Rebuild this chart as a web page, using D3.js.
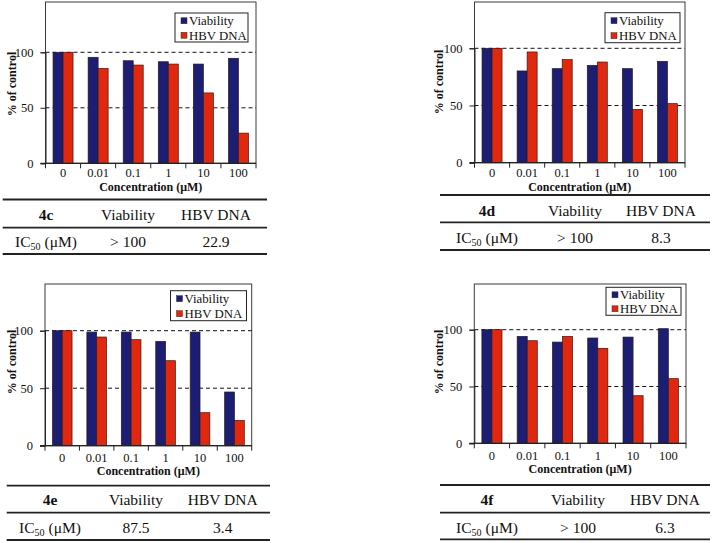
<!DOCTYPE html>
<html>
<head>
<meta charset="utf-8">
<script src="https://cdn.jsdelivr.net/npm/d3@7"></script>
<style>
  html, body { margin: 0; padding: 0; background: #fff; }
  svg { display: block; font-family: "Liberation Serif", "Times New Roman", serif; }
</style>
</head>
<body>
<svg id="chart" width="714" height="543"></svg>
<script>
// ---------- data ----------
const categories = ["0", "0.01", "0.1", "1", "10", "100"];
const seriesNames = ["Viability", "HBV DNA"];
const yTicks = [0, 50, 100];
const compounds = ["4c", "4d", "4e", "4f"];

const viability4c = [100, 95.5, 92.4, 91.5, 89.4, 94.6];
const hbv4c       = [100, 85.5, 88.5, 89.4, 63.4, 27.2];
const viability4d = [100, 80.2, 82.2, 85.1, 82.2, 88.6];
const hbv4d       = [100, 96.8, 90.1, 88.0, 46.6, 51.6];
const viability4e = [100, 98.8, 98.8, 90.7, 98.8, 46.7];
const hbv4e       = [100, 94.5, 92.2, 73.9, 28.7, 22.0];
const viability4f = [100, 94.1, 89.1, 92.7, 93.5, 100.9];
const hbv4f       = [100, 90.3, 94.1, 83.6, 41.9, 56.9];

const ic50Viability = ["> 100", "> 100", "87.5", "> 100"];
const ic50HBV       = ["22.9", "8.3", "3.4", "6.3"];

const viabilitySeries = [viability4c, viability4d, viability4e, viability4f];
const hbvSeries = [hbv4c, hbv4d, hbv4e, hbv4f];

// ---------- layout (positions only) ----------
const layouts = [
  { left: 45.5, right: 256, top: 2, y0: 163.3, y100: 52.3, tickBase: 177, titleBase: 191, yTitleX: 12, yTitleY: 84,
    legend: { x: 175, y: 13, w: 73, h: 29 },
    table: { x1: 2.7, x2: 267, lines: [199.5, 227.7, 254], hdr: 219.5, row: 246.5, cols: [46, 128, 216] } },
  { left: 474.5, right: 685, top: 2, y0: 162.7, y100: 48.3, tickBase: 177, titleBase: 191, yTitleX: 439, yTitleY: 82,
    legend: { x: 605, y: 12.7, w: 75, h: 30 },
    table: { x1: 440, x2: 710, lines: [195, 222.3, 250], hdr: 216, row: 242.5, cols: [487, 575, 661] } },
  { left: 45, right: 251.7, top: 284, y0: 445.7, y100: 330.7, tickBase: 462, titleBase: 475, yTitleX: 11.7, yTitleY: 362,
    legend: { x: 170.5, y: 290.7, w: 76, h: 30 },
    table: { x1: 6.7, x2: 270, lines: [485.7, 512.7, 540], hdr: 505, row: 532.5, cols: [50, 136, 222.7] } },
  { left: 474.3, right: 686, top: 284, y0: 443.3, y100: 329.7, tickBase: 459.5, titleBase: 473, yTitleX: 439.3, yTitleY: 362,
    legend: { x: 606, y: 287.3, w: 75, h: 28 },
    table: { x1: 440, x2: 710, lines: [485, 512.7, 539.3], hdr: 505, row: 532.5, cols: [487, 578, 665] } }
];

const colors = ["#1b1e72", "#e1280f"];
const svg = d3.select("#chart");

compounds.forEach((name, i) => {
  const L = layouts[i];
  const g = svg.append("g");

  const x = d3.scaleBand().domain(categories).range([L.left, L.right]).paddingInner(0.43).paddingOuter(0.215);
  const xs = d3.scaleBand().domain(seriesNames).range([0, x.bandwidth()]);
  const y = d3.scaleLinear().domain([0, 100]).range([L.y0, L.y100]);

  // frame
  g.append("rect").attr("x", L.left).attr("y", L.top)
    .attr("width", L.right - L.left).attr("height", L.y0 - L.top)
    .attr("fill", "none").attr("stroke", "#3a3a3a").attr("stroke-width", 1);

  // dashed gridlines
  g.selectAll(".grid").data(yTicks.filter(d => d > 0)).join("line")
    .attr("x1", L.left).attr("x2", L.right)
    .attr("y1", d => y(d)).attr("y2", d => y(d))
    .attr("stroke", "#111").attr("stroke-width", 1).attr("stroke-dasharray", "4,3");

  // bars
  const rows = categories.map((c, k) => ({ c, vals: [viabilitySeries[i][k], hbvSeries[i][k]] }));
  const grp = g.selectAll(".cat").data(rows).join("g").attr("transform", d => `translate(${x(d.c)},0)`);
  grp.selectAll("rect").data(d => d.vals.map((v, s) => ({ v, s }))).join("rect")
    .attr("x", d => xs(seriesNames[d.s]))
    .attr("width", xs.bandwidth())
    .attr("y", d => y(d.v))
    .attr("height", d => y(0) - y(d.v))
    .attr("fill", d => colors[d.s])
    .attr("stroke", "#2a1a1a").attr("stroke-width", 0.7);

  // y axis
  const ya = g.append("g").attr("transform", `translate(${L.left},0)`)
    .call(d3.axisLeft(y).tickValues(yTicks).tickSize(5).tickPadding(7).tickFormat(d3.format("d")));
  ya.select(".domain").attr("stroke", "#222");
  ya.selectAll(".tick line").attr("stroke", "#222");
  ya.selectAll("text").attr("font-size", 12.5).attr("font-family", "Liberation Serif").attr("fill", "#111");

  // x axis line
  g.append("line").attr("x1", L.left - 5).attr("x2", L.right).attr("y1", L.y0).attr("y2", L.y0)
    .attr("stroke", "#222").attr("stroke-width", 1.2);
  // boundary ticks
  const bounds = d3.range(categories.length + 1).map(k => L.left + k * x.step());
  g.selectAll(".xt").data(bounds).join("line")
    .attr("x1", d => d).attr("x2", d => d).attr("y1", L.y0).attr("y2", L.y0 + 5)
    .attr("stroke", "#222").attr("stroke-width", 1);
  // x tick labels
  g.selectAll(".xl").data(categories).join("text")
    .attr("x", d => x(d) + x.bandwidth() / 2).attr("y", L.tickBase)
    .attr("text-anchor", "middle").attr("font-size", 12.5).attr("fill", "#111").text(d => d);

  // axis titles
  g.append("text").attr("x", (L.left + L.right) / 2).attr("y", L.titleBase)
    .attr("text-anchor", "middle").attr("font-size", 12).attr("font-weight", "bold").attr("fill", "#111")
    .text("Concentration (μM)");
  g.append("text").attr("transform", `translate(${L.yTitleX + 4},${L.yTitleY}) rotate(-90)`)
    .attr("text-anchor", "middle").attr("font-size", 12).attr("font-weight", "bold").attr("fill", "#111")
    .text("% of control");

  // legend
  const lg = g.append("g").attr("transform", `translate(${L.legend.x},${L.legend.y})`);
  lg.append("rect").attr("width", L.legend.w).attr("height", L.legend.h)
    .attr("fill", "#fff").attr("stroke", "#222").attr("stroke-width", 1);
  const rowH = L.legend.h / 2;
  seriesNames.forEach((s, k) => {
    const cy = rowH * k + rowH / 2 + 0.5;
    lg.append("rect").attr("x", 6).attr("y", cy - 3).attr("width", 6).attr("height", 6)
      .attr("fill", colors[k]).attr("stroke", "#333").attr("stroke-width", 0.5);
    lg.append("text").attr("x", 14).attr("y", cy + 4.3).attr("font-size", 12.8).attr("fill", "#111").text(s);
  });

  // table
  const T = L.table;
  g.selectAll(".tl").data(T.lines).join("line")
    .attr("x1", T.x1).attr("x2", T.x2).attr("y1", d => d).attr("y2", d => d)
    .attr("stroke", "#222").attr("stroke-width", 1.8);
  const hdr = [name, seriesNames[0], seriesNames[1]];
  hdr.forEach((t, k) => {
    g.append("text").attr("x", T.cols[k]).attr("y", T.hdr).attr("text-anchor", "middle")
      .attr("font-size", 15.5).attr("fill", "#111").attr("font-weight", k === 0 ? "bold" : "normal").text(t);
  });
  const ic = g.append("text").attr("x", T.cols[0]).attr("y", T.row).attr("text-anchor", "middle")
    .attr("font-size", 15.5).attr("fill", "#111");
  ic.append("tspan").text("IC");
  ic.append("tspan").attr("font-size", 10).attr("dy", 3).text("50");
  ic.append("tspan").attr("dy", -3).text(" (μM)");
  g.append("text").attr("x", T.cols[1]).attr("y", T.row).attr("text-anchor", "middle")
    .attr("font-size", 15.5).attr("fill", "#111").text(ic50Viability[i]);
  g.append("text").attr("x", T.cols[2]).attr("y", T.row).attr("text-anchor", "middle")
    .attr("font-size", 15.5).attr("fill", "#111").text(ic50HBV[i]);
});
</script>
</body>
</html>
